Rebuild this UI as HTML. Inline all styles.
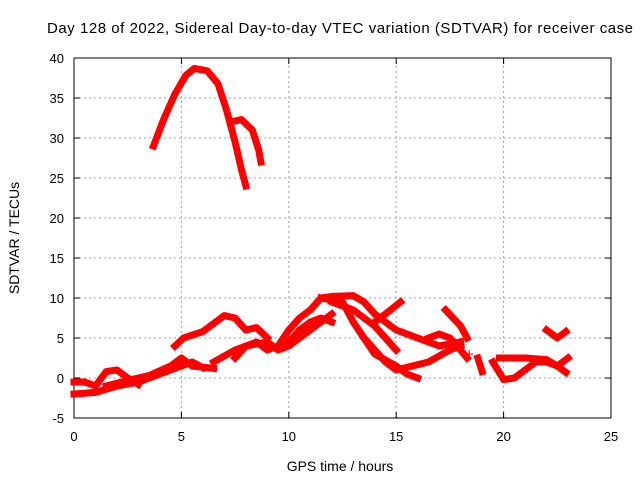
<!DOCTYPE html>
<html><head><meta charset="utf-8"><style>
body{margin:0;background:#fff}
svg{display:block;font-family:"Liberation Sans",sans-serif}
</style></head><body>
<svg id="chart" width="640" height="480" viewBox="0 0 640 480" xmlns="http://www.w3.org/2000/svg">
<rect width="640" height="480" fill="#fff"/>
<text x="47" y="33" font-size="15" textLength="586" lengthAdjust="spacing" fill="#000">Day 128 of 2022, Sidereal Day-to-day VTEC variation (SDTVAR) for receiver case</text>
<g id="grid"></g>
<g id="axes"></g>
<g id="series"></g>
<text x="340" y="471" font-size="14" text-anchor="middle">GPS time / hours</text>
<text transform="translate(19,238) rotate(-90)" font-size="14" text-anchor="middle">SDTVAR / TECUs</text>
</svg>
<script>
const xTicks=[0,5,10,15,20,25];
const yTicks=[-5,0,5,10,15,20,25,30,35,40];
const trackTopA=[[3.7,29],[4.2,32.5],[4.7,35.5],[5.2,37.8],[5.6,38.7],[6.2,38.4],[6.7,36.8],[7.1,33.5],[7.5,29.5],[7.8,26],[8,24]];
const trackTopB=[[7.3,32],[7.8,32.3],[8.3,31],[8.6,28.5],[8.7,27]];
const track1=[[0,-2],[1,-1.8],[2,-1],[3,-0.5],[4,0.5],[5,1.5],[5.5,2],[6,1.3]];
const track2=[[0,-0.5],[0.5,-0.5],[1,-1],[1.5,0.8],[2,1],[2.5,0],[3,-0.8]];
const track3=[[1.5,-1],[2.5,-0.3],[3.5,0.3],[4.5,1.5],[5,2.5],[5.5,1.5],[6.5,1.2]];
const track4=[[4.7,4],[5.1,5],[6,5.8],[7,7.8],[7.5,7.5],[8,6],[8.5,6.3],[9,5]];
const track5=[[6.5,2],[7.5,3.5],[8,4],[9,4.5],[9.5,3.5],[10,4],[11,6],[12,8]];
const track6=[[7.5,2.5],[8,4],[8.5,4.5],[9,3.5],[10,4.5],[10.5,6],[11,7],[11.5,7.5],[12,7]];
const track7=[[9.5,4],[10,6],[10.5,7.5],[11,8.5],[11.5,10],[12,10.2],[13,10.3],[13.5,9.5],[14,8],[15,6],[16,5],[17,4],[18,4.5]];
const track8=[[11.5,10],[12.5,9.5],[13,7],[13.5,5],[14,3],[15,1.5],[15.5,0.5],[16,0]];
const track9=[[12,9.5],[13,8.5],[14,6.5],[14.5,5],[15,3.5]];
const track10=[[14,7],[14.5,8],[15.2,9.5]];
const track11=[[13.5,5],[14.5,2],[15,1],[16.5,2],[17.5,3.5],[18,4]];
const track12=[[16.5,5],[17,5.5],[17.5,5],[18,3.5],[18.3,2.5]];
const track13=[[17.3,8.5],[18,6.5],[18.3,5]];
const track14=[[18.8,2.5],[19,0.8]];
const track15=[[19.5,2],[20,-0.2],[20.5,0],[21,1],[21.5,2],[22,2],[22.5,1.5],[23,2.5]];
const track16=[[19.8,2.5],[21,2.5],[22,2.3],[22.5,1.5],[22.9,0.7]];
const track17=[[22,6],[22.5,5],[22.9,5.8]];
const tracks=[trackTopA,trackTopB,track1,track2,track3,track4,track5,track6,track7,track8,track9,track10,track11,track12,track13,track14,track15,track16,track17];
const singlePoints=[[18.4,3]];

const NS="http://www.w3.org/2000/svg";
const X0=74,X1=611,Y0=418,Y1=58;
const xs=v=>X0+(v-0)/25*(X1-X0);
const ys=v=>Y0-(v+5)/45*(Y0-Y1);
function mk(tag,attrs,parent){const e=document.createElementNS(NS,tag);for(const k in attrs)e.setAttribute(k,attrs[k]);parent.appendChild(e);return e;}
const grid=document.getElementById('grid'),axes=document.getElementById('axes'),series=document.getElementById('series');
xTicks.forEach(t=>{
  const x=xs(t);
  if(t>0&&t<25){const g=mk('line',{x1:x,x2:x,y1:Y0,y2:Y1,stroke:'#a0a0a0','stroke-dasharray':'2,3'},grid);
  
  }
  mk('line',{x1:x,x2:x,y1:Y0,y2:Y0-6,stroke:'#000'},axes);
  mk('line',{x1:x,x2:x,y1:Y1,y2:Y1+6,stroke:'#000'},axes);
  const l=mk('text',{x:x,y:Y0+23,'font-size':13,'text-anchor':'middle'},axes);l.textContent=t;
  
  
});
yTicks.forEach(t=>{
  const y=ys(t);
  if(t>-5&&t<40){const g=mk('line',{x1:X0,x2:X1,y1:y,y2:y,stroke:'#a0a0a0','stroke-dasharray':'2,3'},grid);
  
  }
  mk('line',{x1:X0,x2:X0+6,y1:y,y2:y,stroke:'#000'},axes);
  mk('line',{x1:X1,x2:X1-6,y1:y,y2:y,stroke:'#000'},axes);
  const l=mk('text',{x:X0-10,y:y+5,'font-size':13,'text-anchor':'end'},axes);l.textContent=t;
  
  
});
const frame=mk('rect',{x:X0,y:Y1,width:X1-X0,height:Y0-Y1,fill:'none',stroke:'#000'},axes);


tracks.forEach(tr=>{
  const p=mk('polyline',{points:tr.map(d=>xs(d[0])+','+ys(d[1])).join(' '),fill:'none',stroke:'#ff0000','stroke-width':7,'stroke-linejoin':'round','stroke-linecap':'square'},series);
  
  
});
singlePoints.forEach(d=>{
  const x=xs(d[0]),y=ys(d[1]);
  const p=mk('path',{d:`M${x-4},${y}H${x+4}M${x},${y-4}V${y+4}`,stroke:'#ff0000','stroke-width':1},series);
  
  
});
</script>
</body></html>
